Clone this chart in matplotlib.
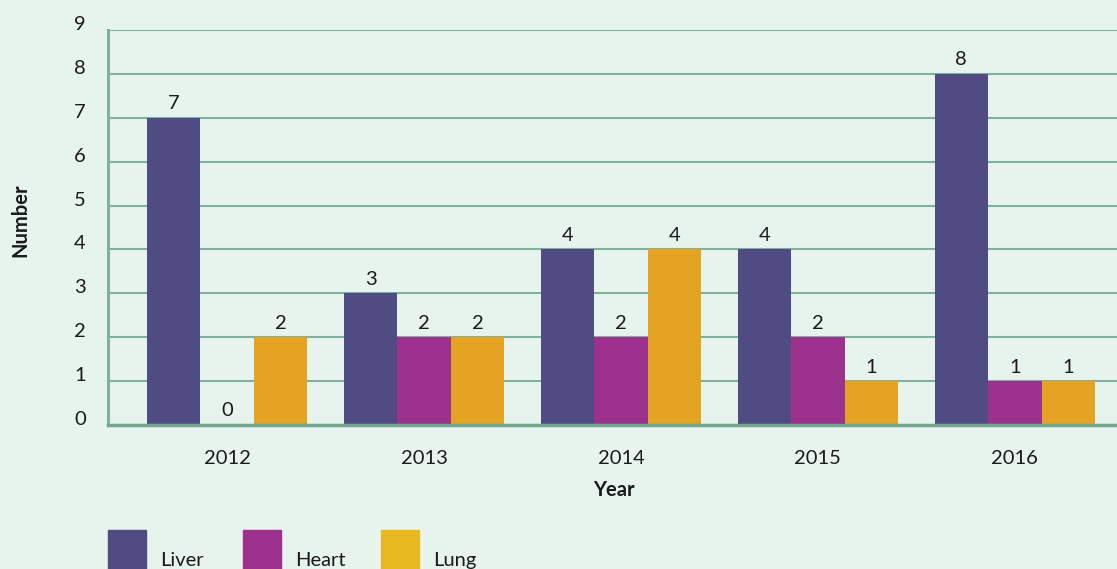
import matplotlib
matplotlib.use("Agg")
import matplotlib.pyplot as plt
import matplotlib.transforms as mtransforms
from matplotlib.patches import Rectangle
import numpy as np

years = ["2012", "2013", "2014", "2015", "2016"]
series = ["Liver", "Heart", "Lung"]
liver = [7, 3, 4, 4, 8]
heart = [0, 2, 2, 2, 1]
lung = [2, 2, 4, 1, 1]
yticks = [0, 1, 2, 3, 4, 5, 6, 7, 8, 9]

bar_colors = ["#504C83", "#9C318E", "#E5A323"]
legend_colors = ["#504C83", "#9C318E", "#E8B820"]
bg = "#E7F4EE"
grid_c = "#7FB29B"
text_c = "#1A1A1A"
FS = 14.5

plt.rcParams['font.family'] = ['Lato', 'DejaVu Sans']

W, H = 1117, 569
fig = plt.figure(figsize=(W / 100, H / 100), dpi=100, facecolor=bg)
ax = fig.add_axes([108 / W, 1 - 425 / H, 1 - 108 / W + 0.002, (425 - 30) / H])
ax.set_facecolor(bg)

x = np.arange(len(years))
bw = 0.272
data = [liver, heart, lung]
for i, (vals, col) in enumerate(zip(data, bar_colors)):
    pos = x + (i - 1) * bw
    bars = ax.bar(pos, vals, width=bw, color=col, zorder=3)
    for b, v in zip(bars, vals):
        ax.annotate(str(v), (b.get_x() + b.get_width() / 2, v),
                    xytext=(0, 4), textcoords="offset points",
                    ha="center", va="bottom", fontsize=FS, color=text_c)

ax.set_ylim(0, 9)
ax.set_xlim(-0.605, 4.53)
ax.set_yticks(yticks)
ax.set_yticklabels([str(t) for t in yticks])
ax.set_xticks(x)
ax.set_xticklabels(years)
ax.yaxis.grid(True, color=grid_c, linewidth=1.5, zorder=0)
ax.set_axisbelow(True)
ax.tick_params(axis="both", length=0, labelsize=FS, labelcolor=text_c)
ax.tick_params(axis="y", pad=16)
ax.tick_params(axis="x", pad=18)
offset = mtransforms.ScaledTranslation(0, 7 / 100, fig.dpi_scale_trans)
for lab in ax.get_yticklabels():
    lab.set_transform(lab.get_transform() + offset)

for s in ["top", "right"]:
    ax.spines[s].set_visible(False)
ax.spines["left"].set_color(grid_c)
ax.spines["left"].set_linewidth(2.2)
ax.spines["bottom"].set_color("#72A68E")
ax.spines["bottom"].set_linewidth(2.5)
ax.spines["bottom"].set_zorder(4)

ax.set_xlabel("Year", fontsize=FS, fontweight="bold", color=text_c, labelpad=9)
fig.text(20 / W, 1 - 220 / H, "Number", rotation=90, fontsize=FS,
         fontweight="bold", color=text_c, ha="center", va="center")

# legend
leg_x = [108, 243, 381]
for lx, name, col in zip(leg_x, series, legend_colors):
    fig.patches.append(Rectangle((lx / W, 0), 38 / W, (569 - 530) / H,
                                 transform=fig.transFigure, color=col))
    fig.text((lx + 52) / W, 1 - 566 / H, name, fontsize=FS, color=text_c,
             ha="left", va="baseline")

fig.savefig("out.png", dpi=100, facecolor=bg)
